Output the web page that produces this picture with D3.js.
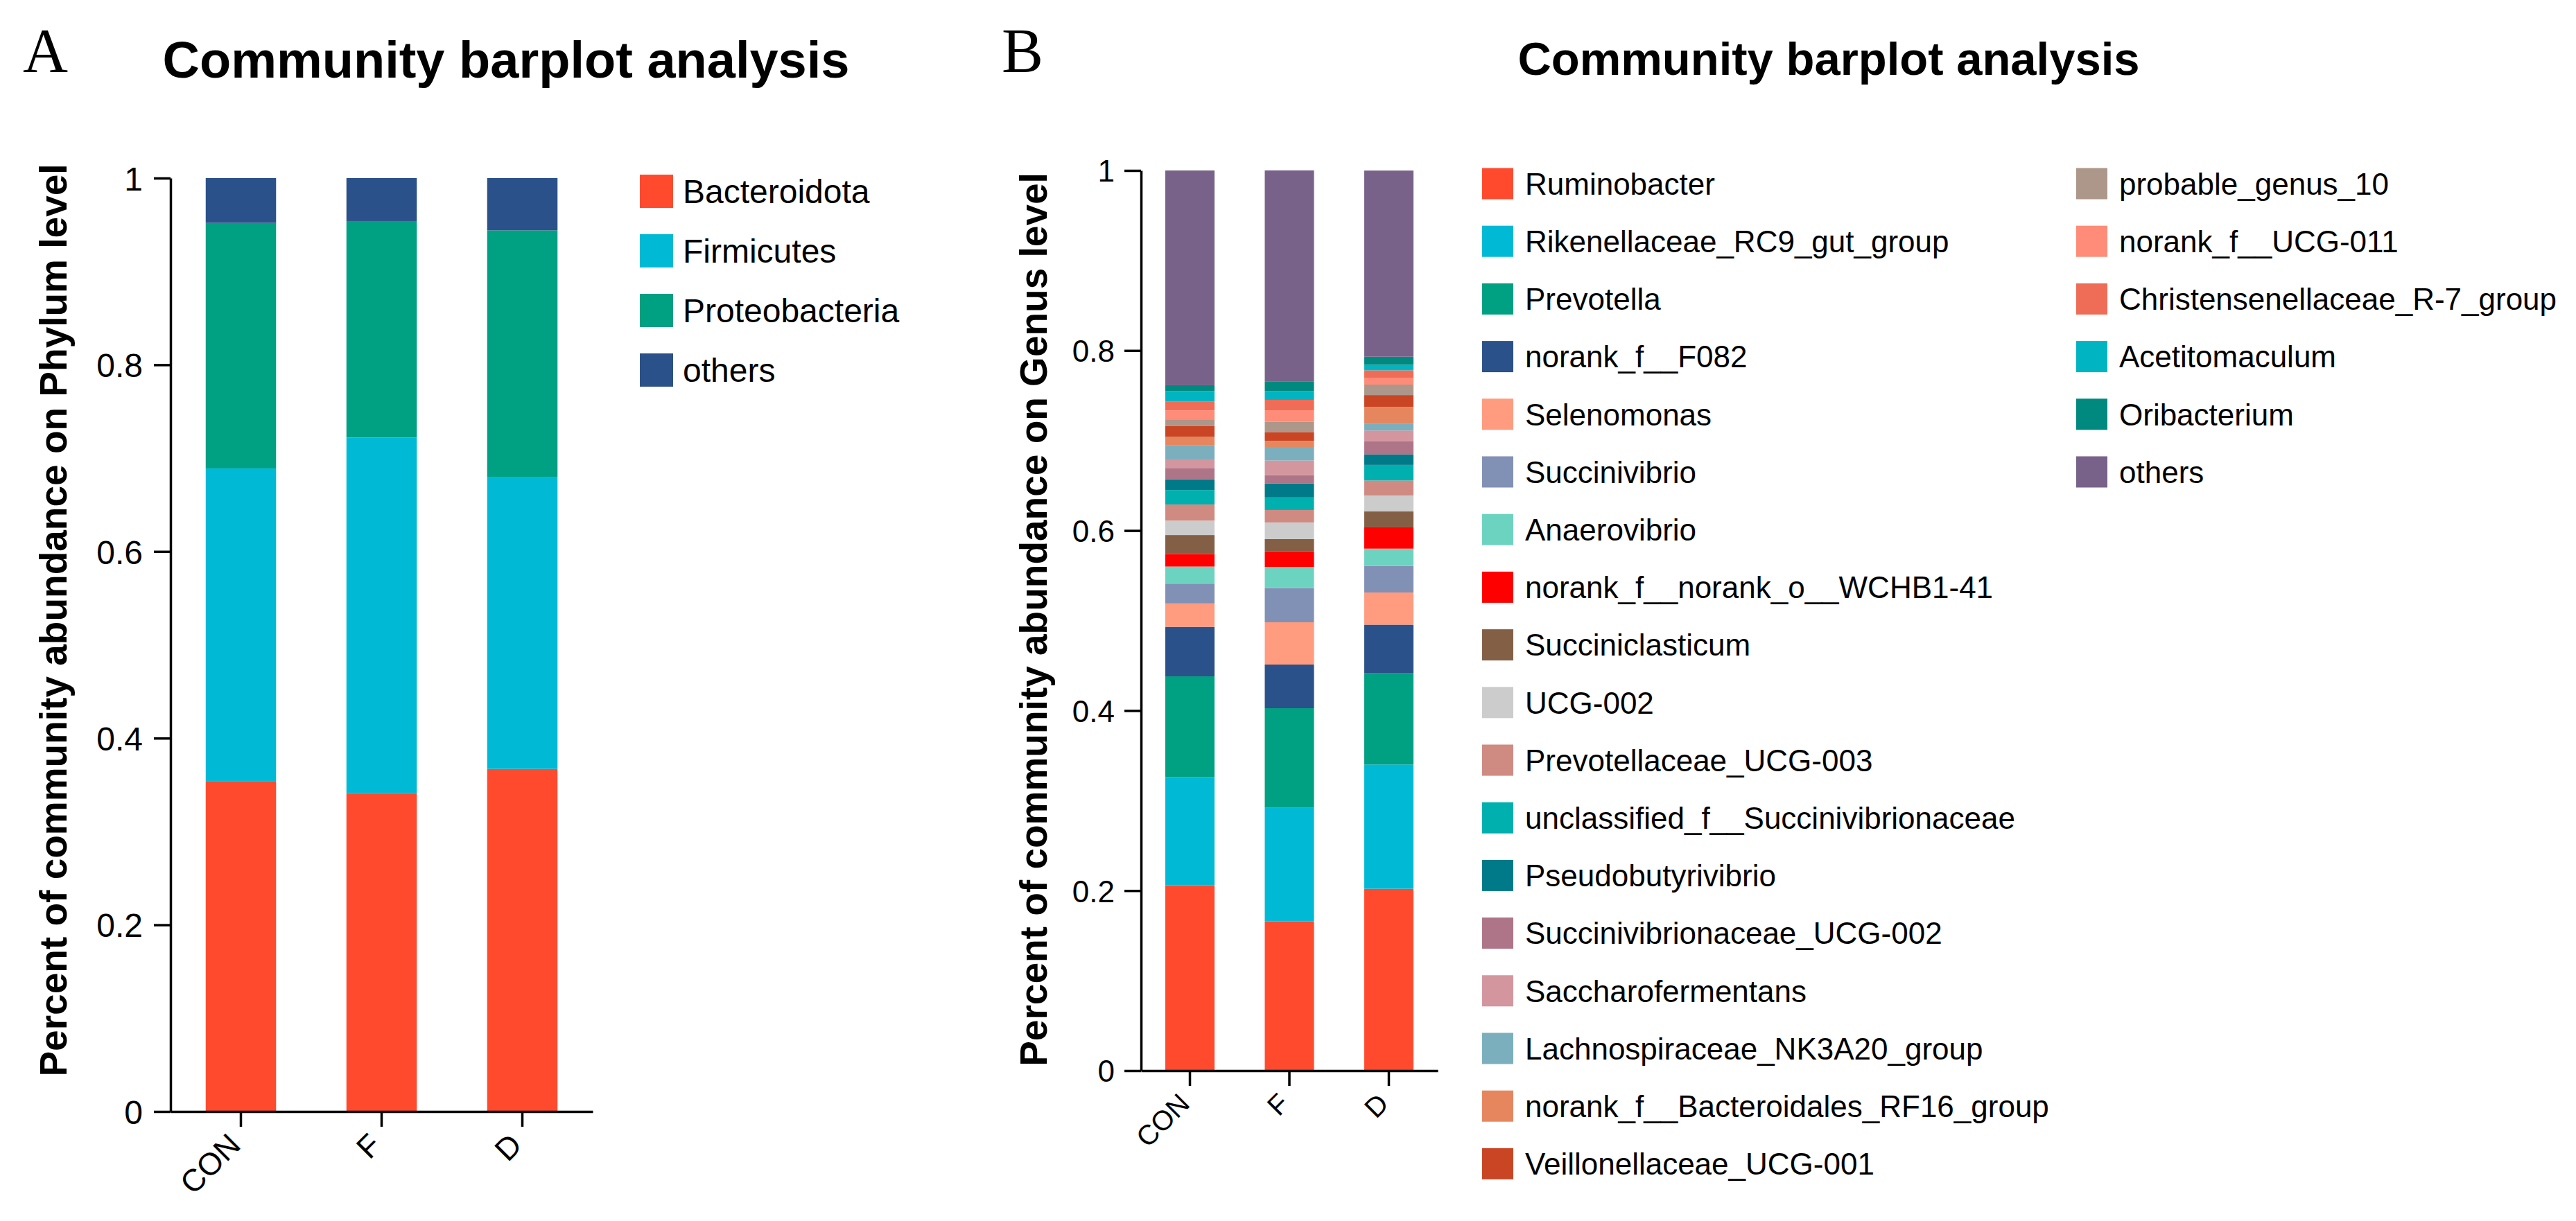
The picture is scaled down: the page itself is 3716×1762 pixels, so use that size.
<!DOCTYPE html>
<html>
  <head>
    <meta charset="utf-8">
    <title>Community barplot analysis</title>
    <script src="https://cdn.jsdelivr.net/npm/d3@7"></script>
    <style>
      body { margin: 0; background: #fff; }
      text { font-family: "Liberation Sans", Arial, sans-serif; fill: #000; }
      .axis path, .axis line { stroke: #000; stroke-width: 3.5; }
    </style>
  </head>

  <body>
    <svg id="chart" width="3716" height="1762"></svg>

    <script>
      // ---- data ----
      const groups = ["CON", "F", "D"];
      const yTicks = [0, 0.2, 0.4, 0.6, 0.8, 1];

      // panel A, phylum level (bottom to top)
      const phyla = ["Bacteroidota", "Firmicutes", "Proteobacteria", "others"];
      const phylumCON = [0.354, 0.335, 0.263, 0.048];
      const phylumF   = [0.341, 0.381, 0.232, 0.046];
      const phylumD   = [0.367, 0.313, 0.264, 0.056];
      const phylumColors = ["#ff4a2e", "#00bad5", "#00a083", "#2a5189"];

      // panel B, genus level (bottom to top)
      const genera = [
        "Ruminobacter", "Rikenellaceae_RC9_gut_group", "Prevotella", "norank_f__F082",
        "Selenomonas", "Succinivibrio", "Anaerovibrio", "norank_f__norank_o__WCHB1-41",
        "Succiniclasticum", "UCG-002", "Prevotellaceae_UCG-003",
        "unclassified_f__Succinivibrionaceae", "Pseudobutyrivibrio",
        "Succinivibrionaceae_UCG-002", "Saccharofermentans", "Lachnospiraceae_NK3A20_group",
        "norank_f__Bacteroidales_RF16_group", "Veillonellaceae_UCG-001", "probable_genus_10",
        "norank_f__UCG-011", "Christensenellaceae_R-7_group", "Acetitomaculum",
        "Oribacterium", "others"
      ];
      const genusCON = [0.206, 0.120, 0.112, 0.055, 0.026, 0.022, 0.019, 0.014, 0.021, 0.016,
                        0.018, 0.016, 0.012, 0.012, 0.010, 0.016, 0.009, 0.012, 0.0075, 0.010,
                        0.010, 0.0115, 0.0064, 0.2386];
      const genusF   = [0.166, 0.126, 0.1106, 0.0485, 0.047, 0.038, 0.0234, 0.0173, 0.0137, 0.0185,
                        0.0138, 0.014, 0.0154, 0.0094, 0.0162, 0.0143, 0.0075, 0.0098, 0.0116, 0.0126,
                        0.0116, 0.0096, 0.0105, 0.2348];
      const genusD   = [0.202, 0.138, 0.1018, 0.0536, 0.0358, 0.0295, 0.0192, 0.0237, 0.0176, 0.0178,
                        0.0166, 0.0173, 0.0116, 0.0146, 0.012, 0.0078, 0.0184, 0.0132, 0.0116, 0.0077,
                        0.0082, 0.0061, 0.009, 0.2068];
      const genusColors = [
        "#ff4a2e", "#00bad5", "#00a083", "#2a5189", "#ff9b7e", "#8190b5", "#6cd3c0", "#ff0000",
        "#835f45", "#cccccc", "#cf8a82", "#00b0ae", "#007a88", "#ae7487", "#d3969e", "#7bafbd",
        "#e6865f", "#c94524", "#ad968a", "#ff8c78", "#ef6c57", "#00b4c2", "#00897f", "#786289"
      ];

      const svg = d3.select("#chart");
      svg.append("rect").attr("width", 3716).attr("height", 1762).attr("fill", "#fff");

      // turns per-group arrays into rows for d3.stack
      function toRows(keys, perGroup) {
        return groups.map(function(g, i) {
          let row = { group: g };
          keys.forEach(function(k, j) { row[k] = perGroup[i][j]; });
          return row;
        });
      }

      function drawPanel(opt) {
        const g = svg.append("g");
        const x = d3.scaleBand()
          .domain(groups)
          .range([opt.left, opt.right])
          .paddingInner(opt.padIn)
          .paddingOuter(opt.padOut);
        const y = d3.scaleLinear()
          .domain([0, 1])
          .range([opt.bottom, opt.top]);
        const color = d3.scaleOrdinal().domain(opt.keys).range(opt.colors);

        const series = d3.stack().keys(opt.keys)(toRows(opt.keys, opt.values));

        // stacked bars
        g.selectAll(".layer")
          .data(series)
          .enter().append("g")
            .attr("fill", function(d) { return color(d.key); })
          .selectAll("rect")
            .data(function(d) { return d; })
          .enter().append("rect")
            .attr("x", function(d) { return x(d.data.group); })
            .attr("width", x.bandwidth())
            .attr("y", function(d) { return y(d[1]); })
            .attr("height", function(d) { return y(d[0]) - y(d[1]); });

        // y axis
        const yAxis = g.append("g")
          .attr("class", "axis")
          .attr("transform", "translate(" + opt.left + ",0)")
          .call(d3.axisLeft(y)
            .tickValues(yTicks)
            .tickSize(24)
            .tickSizeOuter(0)
            .tickPadding(opt.tickPad)
            .tickFormat(function(d) { return d === 0 || d === 1 ? String(d) : d.toFixed(1); }));
        yAxis.selectAll("text")
          .style("font-size", opt.tickFont + "px")
          .style("font-family", "Liberation Sans, Arial, sans-serif")
          .attr("dy", "0.36em");

        // x axis, labels turned 45 degrees ending under the tick
        const xAxis = g.append("g")
          .attr("class", "axis")
          .attr("transform", "translate(0," + opt.bottom + ")")
          .call(d3.axisBottom(x).tickSize(22).tickSizeOuter(0).tickPadding(0));
        xAxis.selectAll("text")
          .style("font-size", opt.xFont + "px")
          .style("font-family", "Liberation Sans, Arial, sans-serif")
          .attr("text-anchor", "end")
          .attr("y", 0)
          .attr("dy", 0)
          .attr("transform", "translate(2," + opt.xLabOff + ") rotate(-45)");

        // y axis title
        g.append("text")
          .attr("transform", "translate(" + opt.labelX + "," + opt.labelY + ") rotate(-90)")
          .attr("text-anchor", "middle")
          .style("font-size", "55px")
          .style("font-weight", "bold")
          .text(opt.yLabel);

        // panel title and letter
        g.append("text")
          .attr("x", opt.titleX)
          .attr("y", opt.titleY)
          .attr("text-anchor", "middle")
          .style("font-size", opt.titleFont + "px")
          .style("font-weight", "bold")
          .text("Community barplot analysis");
        g.append("text")
          .attr("x", opt.letterX)
          .attr("y", 104)
          .style("font-family", "Liberation Serif, Times New Roman, serif")
          .style("font-size", "90px")
          .text(opt.letter);

        // legend
        const legend = g.selectAll(".legend")
          .data(opt.keys)
          .enter().append("g")
            .attr("transform", function(d, i) {
              const col = Math.floor(i / opt.perCol);
              const row = i % opt.perCol;
              return "translate(" + (opt.legX + col * opt.colGap) + "," + (opt.legY + row * opt.rowGap) + ")";
            });
        legend.append("rect")
          .attr("x", 0)
          .attr("y", -opt.sw / 2)
          .attr("width", opt.sw)
          .attr("height", opt.sw)
          .attr("fill", function(d) { return color(d); });
        legend.append("text")
          .attr("x", opt.textX)
          .attr("dy", "0.36em")
          .style("font-size", opt.legFont + "px")
          .text(function(d) { return d; });
      }

      // panel A
      drawPanel({
        keys: phyla, colors: phylumColors, values: [phylumCON, phylumF, phylumD],
        left: 246, right: 855, top: 257, bottom: 1604, padIn: 0.5, padOut: 0.25,
        tickPad: 16, tickFont: 48, xFont: 45, xLabOff: 51,
        yLabel: "Percent of community abundance on Phylum level", labelX: 96, labelY: 895,
        titleX: 730, titleY: 112, titleFont: 74, letter: "A", letterX: 33,
        legX: 923, legY: 276, perCol: 4, colGap: 0, rowGap: 86, sw: 48, textX: 62, legFont: 48
      });

      // panel B
      drawPanel({
        keys: genera, colors: genusColors, values: [genusCON, genusF, genusD],
        left: 1646, right: 2074, top: 246, bottom: 1545, padIn: 0.505, padOut: 0.244,
        tickPad: 14, tickFont: 44, xFont: 40, xLabOff: 50,
        yLabel: "Percent of community abundance on Genus level", labelX: 1510, labelY: 894,
        titleX: 2638, titleY: 108, titleFont: 67, letter: "B", letterX: 1445,
        legX: 2138, legY: 265, perCol: 18, colGap: 857, rowGap: 83.2, sw: 45, textX: 62, legFont: 44
      });
    </script>
  </body>
</html>
